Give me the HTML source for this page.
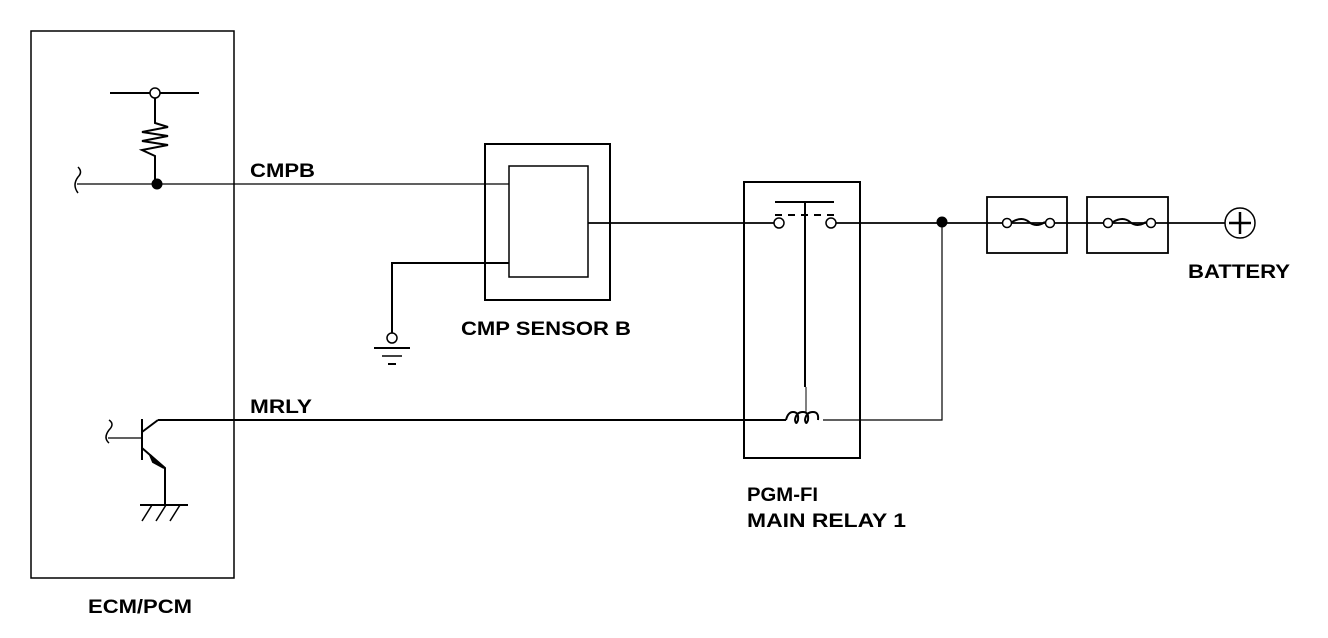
<!DOCTYPE html>
<html><head><style>body{margin:0;background:#fff}svg{display:block}text{font-family:"Liberation Sans",Arial,sans-serif;font-weight:bold;font-size:19px;fill:#000}</style></head><body>
<svg width="1328" height="638" viewBox="0 0 1328 638" xmlns="http://www.w3.org/2000/svg" fill="none" stroke="#000">
<rect x="31" y="31" width="203" height="547" stroke-width="1.5"/>
<text x="88" y="613" stroke="none" textLength="104" lengthAdjust="spacingAndGlyphs">ECM/PCM</text>
<line x1="110" y1="93" x2="199" y2="93" stroke-width="2"/>
<circle cx="155" cy="93" r="5" fill="#fff" stroke-width="1.5"/>
<polyline points="155,98 155,123 168,127 142,132 168,136 142,141 168,145 142,150 155,156 155,184" stroke-width="2"/>
<circle cx="157" cy="184" r="5" fill="#000"/>
<line x1="77" y1="184" x2="509" y2="184" stroke-width="1.2"/>
<path d="M78,167 q5,5 0,10 q-6,8 0,16" stroke-width="1.5"/>
<text x="250" y="177" stroke="none" textLength="65" lengthAdjust="spacingAndGlyphs">CMPB</text>
<rect x="485" y="144" width="125" height="156" stroke-width="2"/>
<rect x="509" y="166" width="79" height="111" stroke-width="1.5"/>
<line x1="588" y1="223" x2="774" y2="223" stroke-width="1.8"/>
<polyline points="509,263 392,263 392,333" stroke-width="2"/>
<circle cx="392" cy="338" r="5" fill="#fff" stroke-width="1.5"/>
<line x1="374" y1="348" x2="410" y2="348" stroke-width="2"/>
<line x1="382" y1="356" x2="402" y2="356" stroke-width="1.5"/>
<line x1="388" y1="364" x2="396" y2="364" stroke-width="2"/>
<text x="461" y="335" stroke="none" textLength="170" lengthAdjust="spacingAndGlyphs">CMP SENSOR B</text>
<rect x="744" y="182" width="116" height="276" stroke-width="2"/>
<circle cx="779" cy="223" r="5" fill="#fff" stroke-width="1.5"/>
<circle cx="831" cy="223" r="5" fill="#fff" stroke-width="1.5"/>
<line x1="775" y1="202" x2="834" y2="202" stroke-width="2"/>
<line x1="775" y1="215" x2="834" y2="215" stroke-width="2" stroke-dasharray="7,6"/>
<line x1="805" y1="202" x2="805" y2="387" stroke-width="2"/>
<line x1="806" y1="387" x2="806" y2="412" stroke-width="1"/>
<line x1="836" y1="223" x2="1228" y2="223" stroke-width="1.8"/>
<circle cx="942" cy="222" r="5" fill="#000"/>
<polyline points="942,222 942,420 823,420" stroke-width="1.2"/>
<line x1="158" y1="420" x2="786" y2="420" stroke-width="2"/>
<path d="M786,420 q2,-8 7,-8 q6,0 5,8 q-2,6 -3,0 q1,-8 8,-8 q6,0 5,8 q-2,6 -3,0 q1,-8 8,-8 q6,0 5,8" stroke-width="2"/>
<text x="747" y="501" stroke="none" textLength="71" lengthAdjust="spacingAndGlyphs">PGM-FI</text>
<text x="747" y="527" stroke="none" textLength="159" lengthAdjust="spacingAndGlyphs">MAIN  RELAY 1</text>
<rect x="987" y="197" width="80" height="56" stroke-width="1.8"/>
<rect x="1087" y="197" width="81" height="56" stroke-width="1.8"/>
<circle cx="1007" cy="223" r="4.5" fill="#fff" stroke-width="1.5"/>
<circle cx="1050" cy="223" r="4.5" fill="#fff" stroke-width="1.5"/>
<path d="M1012,222 q10,-6 17,0 q7,6 16,0" stroke-width="2"/>
<circle cx="1108" cy="223" r="4.5" fill="#fff" stroke-width="1.5"/>
<circle cx="1151" cy="223" r="4.5" fill="#fff" stroke-width="1.5"/>
<path d="M1113,222 q10,-6 17,0 q7,6 16,0" stroke-width="2"/>
<circle cx="1240" cy="223" r="15" fill="#fff" stroke-width="1.5"/>
<line x1="1229" y1="223" x2="1251" y2="223" stroke-width="2.5"/>
<line x1="1240" y1="212" x2="1240" y2="234" stroke-width="2.5"/>
<text x="1188" y="278" stroke="none" textLength="102" lengthAdjust="spacingAndGlyphs">BATTERY</text>
<text x="250" y="413" stroke="none" textLength="62" lengthAdjust="spacingAndGlyphs">MRLY</text>
<path d="M109,420 q6,4 0,10 q-6,8 0,13" stroke-width="1.5"/>
<line x1="108" y1="438" x2="142" y2="438" stroke-width="1.2"/>
<line x1="142" y1="419" x2="142" y2="460" stroke-width="2"/>
<polyline points="142,432 158,420" stroke-width="2"/>
<polyline points="142,448 165,468 165,505" stroke-width="2"/>
<polygon points="150,455 164,468 153,462" fill="#000" stroke-width="2"/>
<line x1="140" y1="505" x2="188" y2="505" stroke-width="2"/>
<line x1="152" y1="505" x2="142" y2="521" stroke-width="1.5"/>
<line x1="166" y1="505" x2="156" y2="521" stroke-width="1.5"/>
<line x1="180" y1="505" x2="170" y2="521" stroke-width="1.5"/>
</svg>
</body></html>
